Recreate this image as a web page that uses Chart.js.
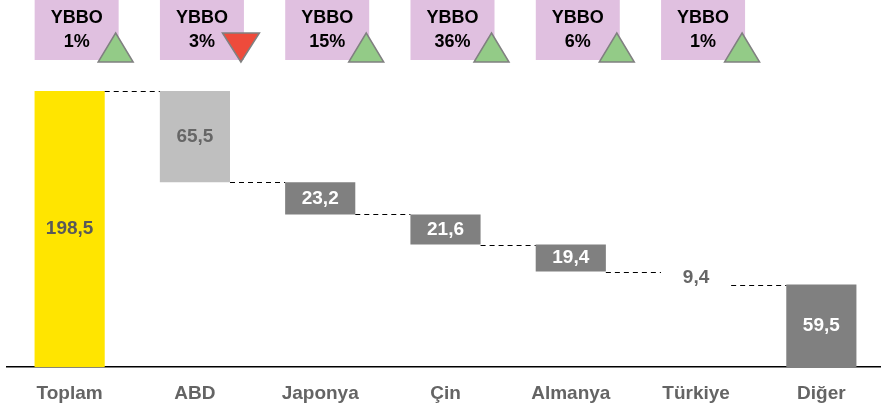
<!DOCTYPE html>
<html>
<head>
<meta charset="utf-8">
<script src="https://cdn.jsdelivr.net/npm/chart.js@4"></script>
<style>
    html, body { margin: 0; padding: 0; background: #fff; overflow: hidden; }
    #wrap { position: relative; width: 885px; height: 411px; }
</style>
</head>
<body>
<div id="wrap"><canvas id="waterfall-chart"></canvas></div>
<script>
// Waterfall data
const categories = ['Toplam', 'ABD', 'Japonya', 'Çin', 'Almanya', 'Türkiye', 'Diğer'];
const values = [198.5, 65.5, 23.2, 21.6, 19.4, 9.4, 59.5];
const barColors = ['#FFE500', '#BFBFBF', '#808080', '#808080', '#808080', '#FFFFFF', '#808080'];
const labelColors = ['#595959', '#666666', '#FFFFFF', '#FFFFFF', '#FFFFFF', '#666666', '#FFFFFF'];
const ybboGrowth = [1, 3, 15, 36, 6, 1];
const ybboUp = [true, false, true, true, true, true];

// first and last bars stand on zero, the rest hang from the running level
const ranges = [];
let level = values[0];
values.forEach((v, i) => {
    if (i === 0 || i === values.length - 1) {
        ranges.push([0, v]);
        return;
    }
    ranges.push([level - v, level]);
    level -= v;
});

function formatValue(v) {
    return v.toFixed(1).replace('.', ',');
}

const FONT = "'Liberation Sans', Arial, sans-serif";

const waterfallExtras = {
    id: 'waterfallExtras',
    afterDatasetsDraw(chart) {
        const ctx = chart.ctx;
        const meta = chart.getDatasetMeta(0);
        const yScale = chart.scales.y;
        const xScale = chart.scales.x;

        ctx.save();

        // dashed connectors
        ctx.strokeStyle = '#000';
        ctx.lineWidth = 1;
        ctx.setLineDash([5, 4]);
        for (let i = 0; i < meta.data.length - 1; i++) {
            const bar = meta.data[i];
            const next = meta.data[i + 1];
            const lvl = i === 0 ? ranges[0][1] : ranges[i][0];
            const y = Math.round(yScale.getPixelForValue(lvl)) + 0.5;
            ctx.beginPath();
            ctx.moveTo(bar.x + bar.width / 2, y);
            ctx.lineTo(next.x - next.width / 2, y);
            ctx.stroke();
        }
        ctx.setLineDash([]);

        // value labels
        ctx.font = 'bold 19px ' + FONT;
        ctx.textAlign = 'center';
        ctx.textBaseline = 'middle';
        meta.data.forEach((bar, i) => {
            ctx.fillStyle = labelColors[i];
            ctx.fillText(formatValue(values[i]), bar.x, (bar.y + bar.base) / 2);
        });

        // YBBO boxes with arrows
        ybboGrowth.forEach((g, i) => {
            const cx = xScale.getPixelForValue(i);
            const left = cx - 35;
            ctx.fillStyle = '#E0C0E0';
            ctx.fillRect(left, 0, 84, 60);

            ctx.fillStyle = '#000';
            ctx.font = 'bold 18px ' + FONT;
            ctx.fillText('YBBO', left + 42, 18);
            ctx.fillText(g + '%', left + 42, 42);

            const tx = cx + 46;
            ctx.beginPath();
            if (ybboUp[i]) {
                ctx.moveTo(tx, 33);
                ctx.lineTo(tx + 17.5, 62);
                ctx.lineTo(tx - 17.5, 62);
                ctx.fillStyle = '#93CB87';
            } else {
                ctx.moveTo(tx - 18.5, 33);
                ctx.lineTo(tx + 18.5, 33);
                ctx.lineTo(tx, 62);
                ctx.fillStyle = '#EE4B3B';
            }
            ctx.closePath();
            ctx.fill();
            ctx.strokeStyle = '#808080';
            ctx.lineWidth = 1.5;
            ctx.stroke();
        });

        ctx.restore();
    }
};

new Chart(document.getElementById('waterfall-chart'), {
    type: 'bar',
    data: {
        labels: categories,
        datasets: [{
            data: ranges,
            backgroundColor: barColors,
            borderWidth: 0,
            barPercentage: 0.56,
            categoryPercentage: 1
        }]
    },
    options: {
        responsive: true,
        maintainAspectRatio: false,
        animation: false,
        layout: {
            padding: { left: 7, right: 1, top: 0, bottom: -9 }
        },
        plugins: {
            legend: { display: false },
            tooltip: { enabled: false }
        },
        scales: {
            x: {
                grid: { display: false, drawTicks: false },
                border: { display: true, color: '#000', width: 1.5 },
                ticks: {
                    color: '#646464',
                    padding: 15,
                    font: { family: FONT, size: 19, weight: 'bold' }
                }
            },
            y: {
                display: false,
                min: 0,
                max: 264
            }
        }
    },
    plugins: [waterfallExtras]
});
</script>
</body>
</html>
